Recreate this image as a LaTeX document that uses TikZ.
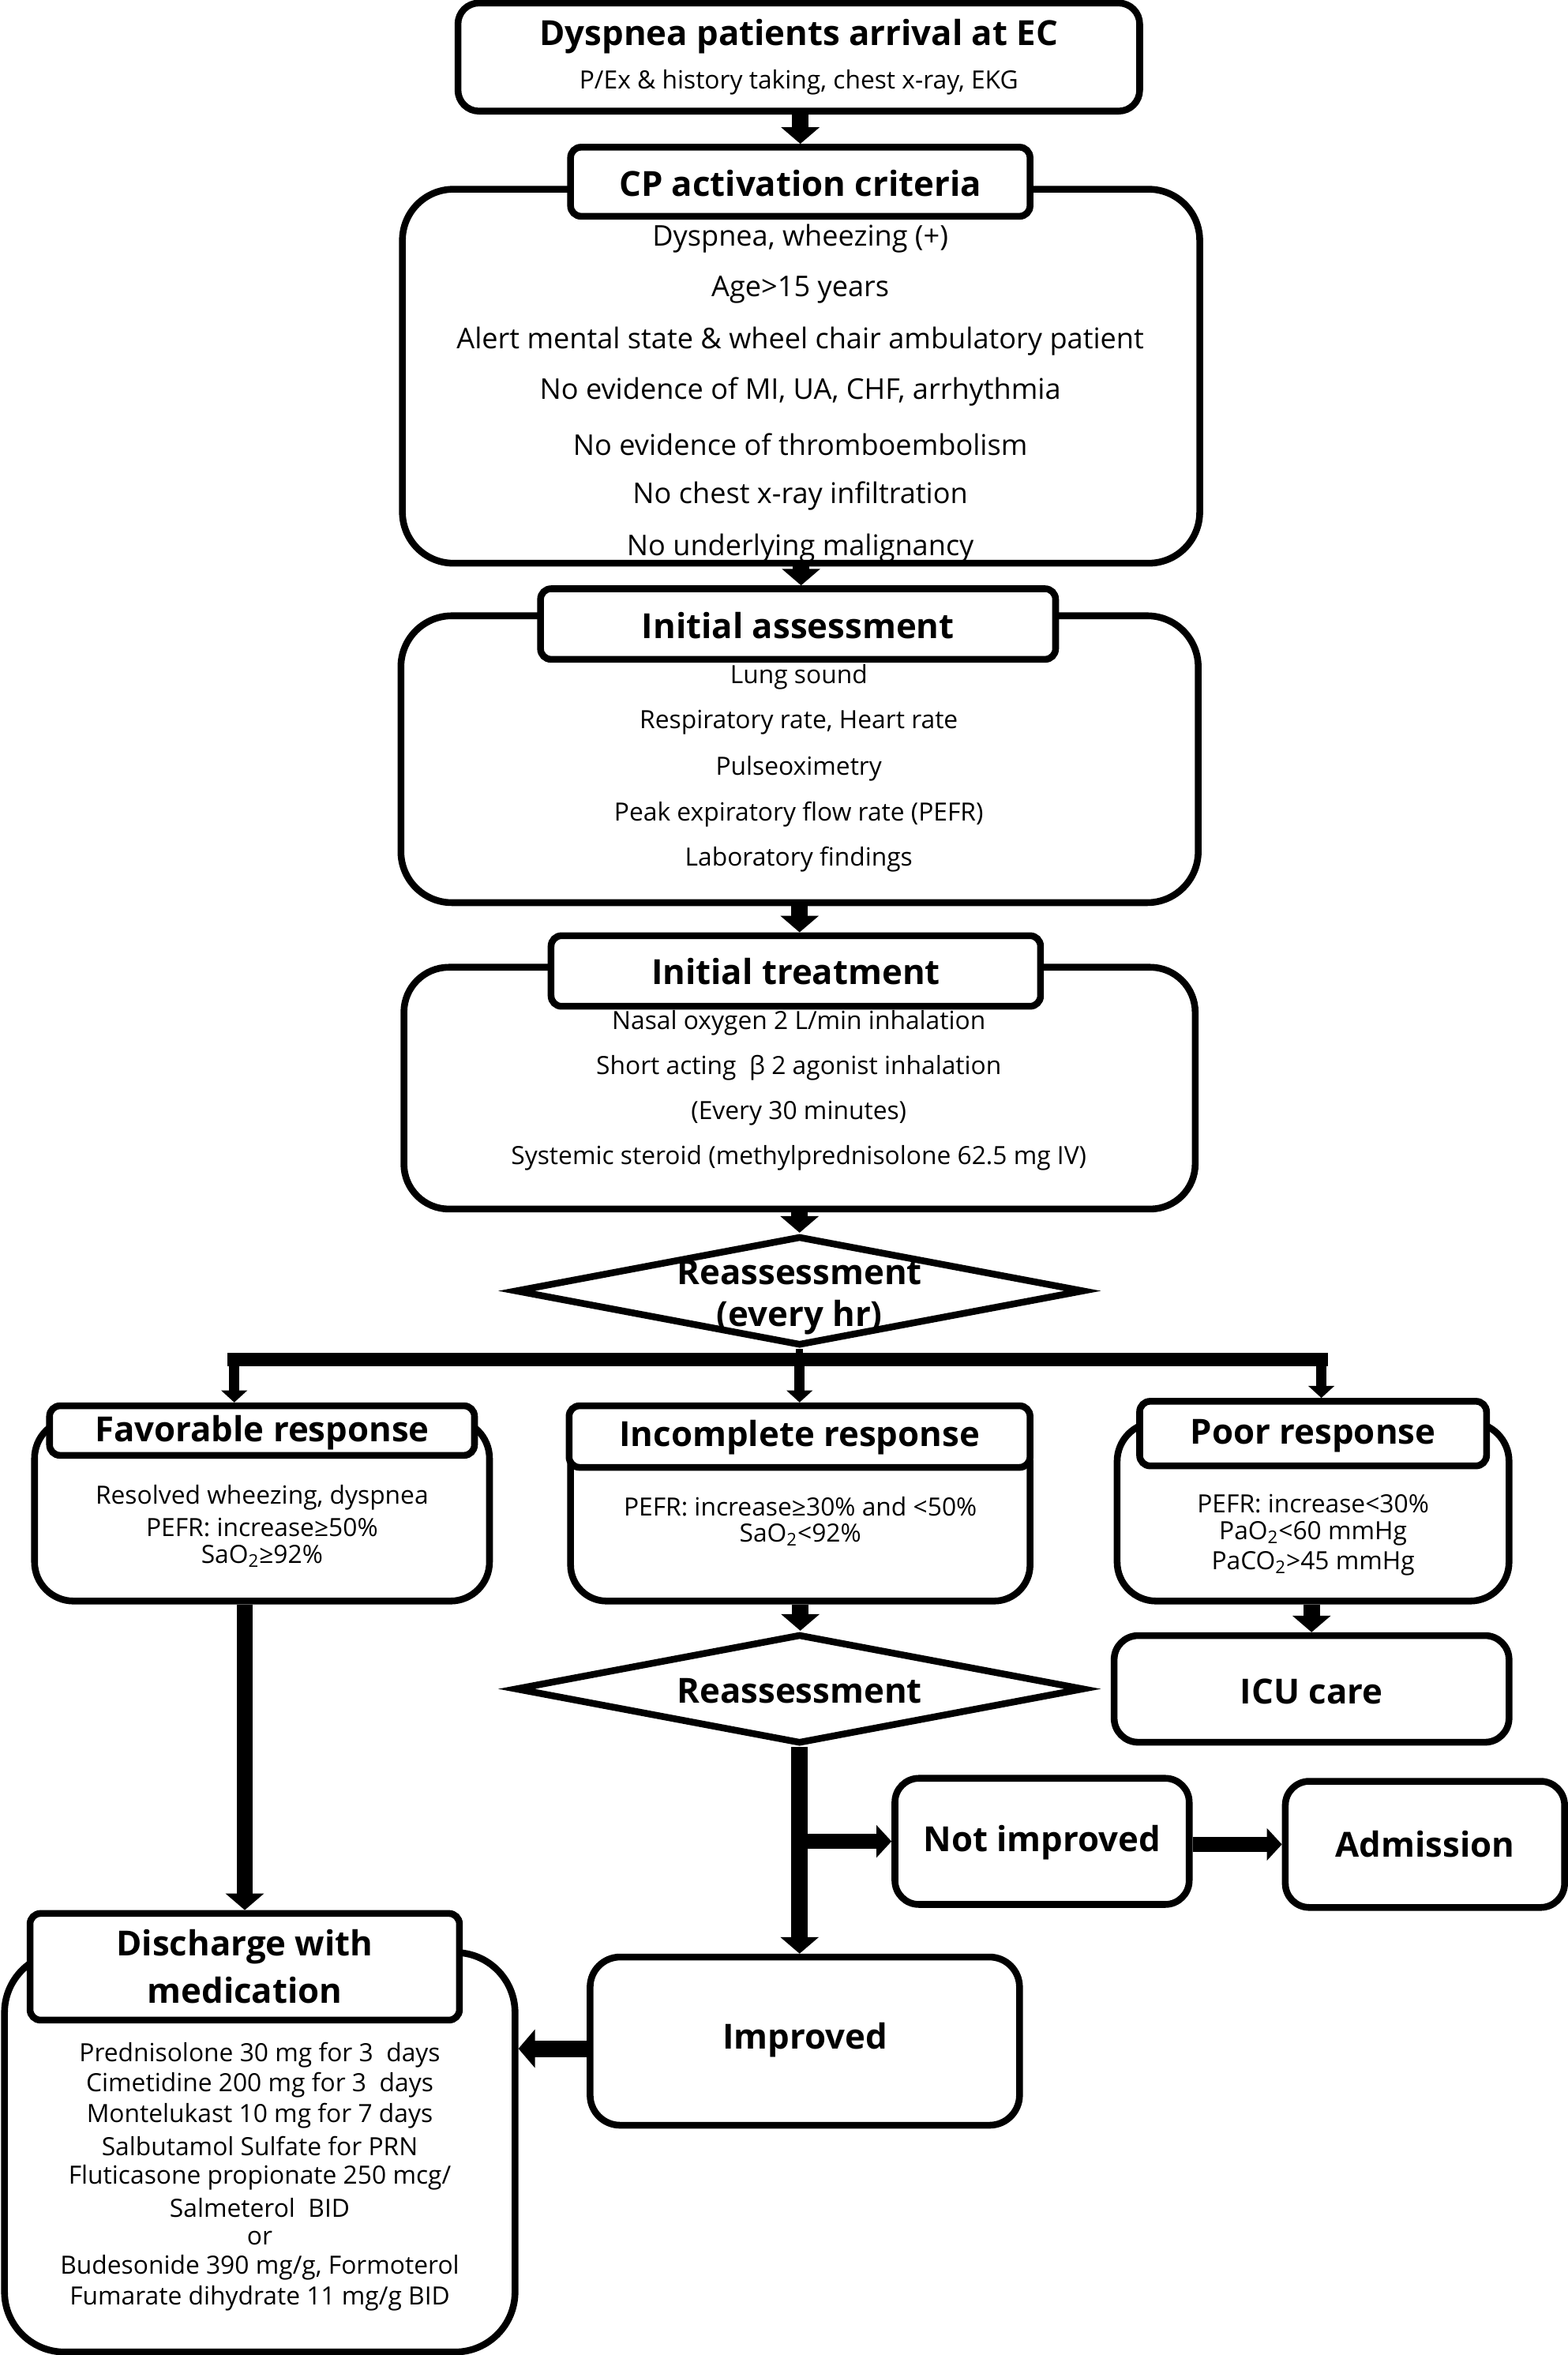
\documentclass[tikz,border=0pt]{standalone}
\usepackage{fontspec}
\setmainfont{Open Sans}
\usetikzlibrary{shapes.geometric,arrows.meta}
\newcommand\ttlf{\fontsize{23}{27}\selectfont\bfseries}
\newcommand\bdyf{\fontsize{19}{22}\selectfont}
\newcommand\smf{\fontsize{16.7}{19}\selectfont}
\tikzset{
  rbox/.style={draw, line width=4.5pt, rounded corners=#1, fill=white, inner sep=0pt},
  hdr/.style={draw, line width=4.5pt, rounded corners=7pt, fill=white, inner sep=0pt},
  dia/.style={draw, diamond, line width=4.5pt, fill=white, inner sep=0pt, aspect=5.2},
  ttl/.style={inner sep=0pt, align=center, font=\ttlf},
  txt/.style={inner sep=0pt, align=center, font=\bdyf},
  stx/.style={inner sep=0pt, align=center, font=\smf},
  arrM/.style={line width=11pt, -{Triangle[width=25pt,length=11pt]}},
  arrH/.style={line width=10pt, -{Triangle[width=21pt,length=10pt]}},
  arrS/.style={line width=7pt, -{Triangle[width=17pt,length=8pt]}},
}
\begin{document}
\begin{tikzpicture}[x=1pt,y=-1pt]
\useasboundingbox (0,0) rectangle (1044,1568);
\fill[white] (0,0) rectangle (1044,1568);

% ---------- top box
\node[rbox=14pt, minimum width=454pt, minimum height=72pt] (arr) at (532,38) {};
\node[ttl] (arrT) at (532,24) {Dyspnea patients arrival at EC};
\node[stx] (arrS) at (532,55) {P/Ex \& history taking, chest x-ray, EKG};

% ---------- CP activation criteria
\node[rbox=34pt, minimum width=531pt, minimum height=249pt] (cp) at (533.5,250.5) {};
\node[hdr, minimum width=306pt, minimum height=46pt] (cph) at (533,121) {};
\node[ttl] (cpT) at (533,122) {CP activation criteria};
\node[txt] (cp1) at (533,159) {Dyspnea, wheezing (+)};
\node[txt] (cp2) at (533,193) {Age>15 years};
\node[txt] (cp3) at (533,227) {Alert mental state \& wheel chair ambulatory patient};
\node[txt] (cp4) at (533,261) {No evidence of MI, UA, CHF, arrhythmia};
\node[txt] (cp5) at (533,296) {No evidence of thromboembolism};
\node[txt] (cp6) at (533,330) {No chest x-ray infiltration};
\node[txt] (cp7) at (533,365) {No underlying malignancy};

% ---------- Initial assessment
\node[rbox=34pt, minimum width=531pt, minimum height=191pt] (ia) at (532.5,505.5) {};
\node[hdr, minimum width=343pt, minimum height=47pt] (iah) at (531.5,415.5) {};
\node[ttl] (iaT) at (531.5,416.5) {Initial assessment};
\node[stx] (ia1) at (532,451) {Lung sound};
\node[stx] (ia2) at (532,481) {Respiratory rate, Heart rate};
\node[stx] (ia3) at (532,512) {Pulseoximetry};
\node[stx] (ia4) at (532,542) {Peak expiratory flow rate (PEFR)};
\node[stx] (ia5) at (532,572) {Laboratory findings};

% ---------- Initial treatment
\node[rbox=30pt, minimum width=527pt, minimum height=161pt] (it) at (532.5,724.5) {};
\node[hdr, minimum width=326pt, minimum height=47pt] (ith) at (530,646.5) {};
\node[ttl] (itT) at (530,647) {Initial treatment};
\node[stx] (it1) at (532,681) {Nasal oxygen 2 L/min inhalation};
\node[stx] (it2) at (532,711) {Short acting \ β 2 agonist inhalation};
\node[stx] (it3) at (532,741) {(Every 30 minutes)};
\node[stx] (it4) at (532,771) {Systemic steroid (methylprednisolone 62.5 mg IV)};

% ---------- Reassessment (every hr)
\node[dia, minimum width=379pt, minimum height=73pt] (d1) at (532.5,859.5) {};
\node[ttl] (d1a) at (532.5,847) {Reassessment};
\node[ttl] (d1b) at (532.5,877) {(every hr)};

% ---------- three responses
\node[rbox=26pt, minimum width=303pt, minimum height=121pt] (fav) at (174.5,1005.5) {};
\node[hdr, minimum width=283pt, minimum height=33pt] (favh) at (174.5,952.5) {};
\node[ttl] (favT) at (174.5,954) {Favorable response};
\node[stx] (fav1) at (174.5,997) {Resolved wheezing, dyspnea};
\node[stx] (fav2) at (174.5,1017) {PEFR: increase≥50\%};
\node[stx] (fav3) at (174.5,1036) {SaO\textsubscript{2}≥92\%};

\node[rbox=24pt, minimum width=306pt, minimum height=116pt] (inc) at (533,1008) {};
\node[hdr, minimum width=307pt, minimum height=41pt] (inch) at (532.5,956.5) {};
\node[ttl] (incT) at (532.5,957) {Incomplete response};
\node[stx] (inc1) at (533,1003) {PEFR: increase≥30\% and <50\%};
\node[stx] (inc2) at (533,1022) {SaO\textsubscript{2}<92\%};

\node[rbox=26pt, minimum width=261pt, minimum height=119pt] (poor) at (874.5,1006.5) {};
\node[hdr, minimum width=231pt, minimum height=43pt] (poorh) at (874.5,954.5) {};
\node[ttl] (poorT) at (874.5,956) {Poor response};
\node[stx] (poor1) at (874.5,1001) {PEFR: increase<30\%};
\node[stx] (poor2) at (874.5,1021) {PaO\textsubscript{2}<60 mmHg};
\node[stx] (poor3) at (874.5,1041) {PaCO\textsubscript{2}>45 mmHg};

% ---------- second level
\node[dia, minimum width=379pt, minimum height=73pt] (d2) at (532.5,1124.5) {};
\node[ttl] (d2T) at (532.5,1126) {Reassessment};
\node[rbox=16pt, minimum width=263pt, minimum height=71pt] (icu) at (873.5,1124.5) {};
\node[ttl] (icuT) at (873.5,1126) {ICU care};

\node[rbox=16pt, minimum width=196pt, minimum height=84pt] (ni) at (694,1226) {};
\node[ttl] (niT) at (694,1227) {Not improved};
\node[rbox=16pt, minimum width=186pt, minimum height=84pt] (adm) at (949,1228) {};
\node[ttl] (admT) at (949,1228) {Admission};

\node[rbox=20pt, minimum width=286pt, minimum height=112pt] (imp) at (536,1359) {};
\node[ttl] (impT) at (536,1358) {Improved};

% ---------- discharge
\node[rbox=40pt, minimum width=340pt, minimum height=266pt] (dis) at (173,1433) {};
\node[hdr, minimum width=286pt, minimum height=71pt] (dish) at (163,1309.5) {};
\node[ttl] (disT1) at (163,1296) {Discharge with};
\node[ttl] (disT2) at (163,1325) {medication};
\node[stx] (ds1) at (173,1368) {Prednisolone 30 mg for 3 \ days};
\node[stx] (ds2) at (173,1388) {Cimetidine 200 mg for 3 \ days};
\node[stx] (ds3) at (173,1409) {Montelukast 10 mg for 7 days};
\node[stx] (ds4) at (173,1429) {Salbutamol Sulfate for PRN};
\node[stx] (ds5) at (173,1450) {Fluticasone propionate 250 mcg/};
\node[stx] (ds6) at (173,1470) {Salmeterol \ BID};
\node[stx] (ds7) at (173,1490) {or};
\node[stx] (ds8) at (173,1510) {Budesonide 390 mg/g, Formoterol};
\node[stx] (ds9) at (173,1530) {Fumarate dihydrate 11 mg/g BID};

% ---------- connectors
\draw[arrM] (arr.south -| cph.north) -- (cph.north);
\draw[arrM] (cp.south) -- (cp.south |- iah.north);
\draw[arrM] (ia.south) -- (ia.south |- ith.north);
\draw[arrM] (it.south) -- (it.south |- d1.north);

\coordinate (bar) at (532.5,905);
\coordinate (barL) at (156,905);
\coordinate (barR) at (880,905);
\draw[line width=5pt] (d1.south) -- (bar);
\draw[line width=9pt] ([xshift=-4.5pt]barL) -- ([xshift=4.5pt]barR);
\draw[arrS] (barL) -- (barL |- favh.north);
\draw[arrS] (bar) -- (bar |- inch.north);
\draw[arrS] (barR) -- (barR |- poorh.north);

\draw[arrM] (inc.south) -- (inc.south |- d2.north);
\draw[arrM] (poor.south -| icu.north) -- (icu.north);

\draw[arrM] (d2.south) -- (d2.south |- imp.north);
\draw[arrH] (d2.south |- ni.west) -- (ni.west);
\draw[arrH] (ni.east |- adm.west) -- (adm.west);
\draw[arrM] ([yshift=-5pt]imp.west) -- ([yshift=-5pt]imp.west -| dis.east);
\draw[arrM] (fav.south -| dish.north) -- (dish.north);
\end{tikzpicture}
\end{document}
